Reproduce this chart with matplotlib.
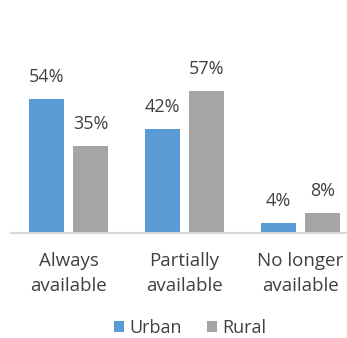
import matplotlib.pyplot as plt
import numpy as np

plt.rcParams['font.family'] = ['Open Sans', 'DejaVu Sans']

categories = ["Always\navailable", "Partially\navailable", "No longer\navailable"]
urban = [54, 42, 4]
rural = [35, 57, 8]

blue = "#5B9BD5"
gray = "#A5A5A5"
text_color = "#404040"

fig = plt.figure(figsize=(3.47, 3.38), dpi=100)
# axes run slightly past the right edge, like the original export
ax = fig.add_axes([11 / 347, 105 / 338, 347 / 347, 149 / 338])

x = np.arange(len(categories))
w = 0.303
off = 0.19

b1 = ax.bar(x - off, urban, w, color=blue, label="Urban")
b2 = ax.bar(x + off, rural, w, color=gray, label="Rural")

for bars, vals in ((b1, urban), (b2, rural)):
    for bar, v in zip(bars, vals):
        ax.text(bar.get_x() + bar.get_width() / 2, v + 5.3, f"{v}%",
                ha="center", va="bottom", fontsize=13, color=text_color,
                clip_on=False)

ax.set_xlim(-0.5, 2.5)
ax.set_ylim(0, 60)
ax.set_yticks([])
ax.set_xticks(x)
ax.set_xticklabels(categories, fontsize=13.5, color=text_color, linespacing=1.45)
ax.tick_params(axis="x", length=0, pad=14)

for s in ("top", "right", "left"):
    ax.spines[s].set_visible(False)
ax.spines["bottom"].set_color("#D9D9D9")
ax.spines["bottom"].set_linewidth(1.5)

fig.legend(handles=[b1, b2], loc="center", bbox_to_anchor=(190 / 347, 10 / 338),
           ncol=2, frameon=False, fontsize=13, labelcolor=text_color,
           handlelength=0.55, handleheight=0.55, handletextpad=0.3,
           columnspacing=1.4, borderpad=0.2)

fig.savefig("out.png", dpi=100)
